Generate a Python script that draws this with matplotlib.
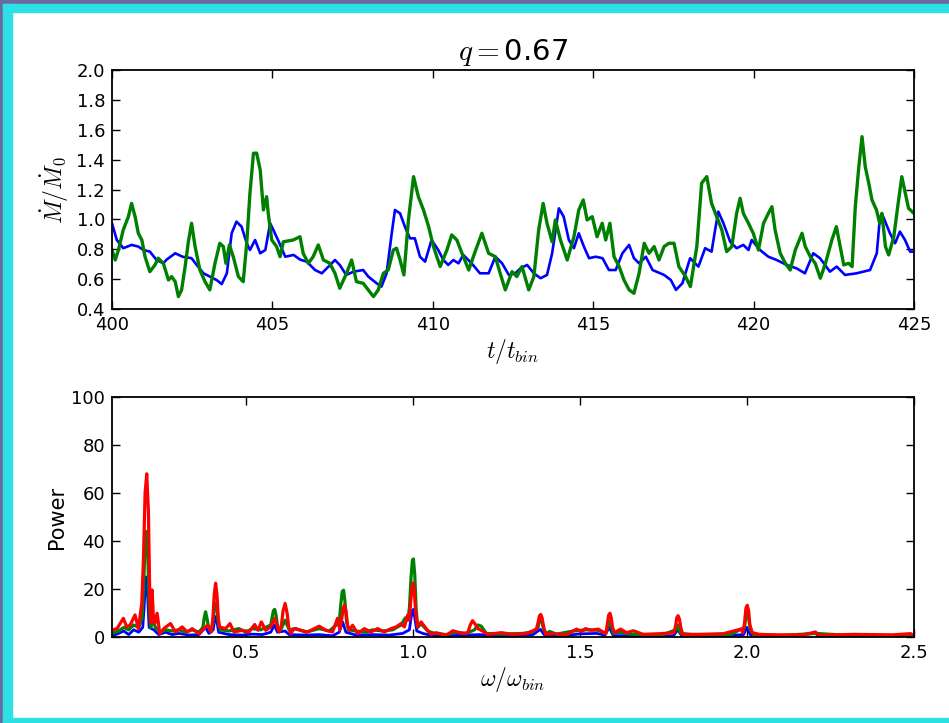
import matplotlib
matplotlib.use("Agg")
import matplotlib.pyplot as plt
from matplotlib.patches import Rectangle

plt.rcParams['mathtext.fontset'] = 'cm'
plt.rcParams['font.family'] = ['DejaVu Sans']

# ---------------- top panel data ----------------
t_blue = [400.0, 400.15, 400.35, 400.61, 400.82, 400.98, 401.18, 401.39, 401.6, 401.7,
          401.97, 402.2, 402.48, 402.64, 402.85, 403.05, 403.26, 403.42, 403.58, 403.73,
          403.88, 404.04, 404.2, 404.3, 404.46, 404.62, 404.78, 404.93, 405.03, 405.2,
          405.4, 405.66, 405.87, 406.07, 406.33, 406.54, 406.75, 406.95, 407.1, 407.3,
          407.53, 407.83, 407.99, 408.25, 408.4, 408.56, 408.72, 408.82, 408.98,
          409.13, 409.29, 409.44, 409.6, 409.76, 409.96, 410.17, 410.33, 410.48, 410.64,
          410.8, 410.95, 411.21, 411.47, 411.74, 411.95, 412.16, 412.37, 412.57, 412.73,
          412.94, 413.15, 413.36, 413.56, 413.72, 413.93, 414.08, 414.24, 414.4, 414.55,
          414.71, 414.87, 415.08, 415.29, 415.49, 415.7, 415.91, 416.12, 416.27, 416.43,
          416.64, 416.85, 417.21, 417.42, 417.58, 417.78,
          418.02, 418.28, 418.49, 418.69, 418.8, 418.9, 419.06, 419.27, 419.47, 419.68,
          419.84, 419.94, 420.2, 420.46, 420.72, 421.03, 421.34, 421.6, 421.86, 422.07,
          422.38, 422.59, 422.85, 423.21, 423.63, 423.84, 423.94, 424.04, 424.25, 424.41,
          424.56, 424.72, 424.88, 425.0]
mdot_blue = [0.974, 0.862, 0.807, 0.829, 0.818, 0.795, 0.784, 0.728, 0.706, 0.73,
             0.773, 0.75, 0.74, 0.695, 0.639, 0.617, 0.594, 0.567, 0.639, 0.907,
             0.985, 0.951, 0.84, 0.795, 0.862, 0.773, 0.795, 0.974, 0.929, 0.85,
             0.75, 0.762, 0.73, 0.717, 0.661, 0.639, 0.684, 0.728, 0.695, 0.628,
             0.65, 0.661, 0.617, 0.572, 0.55, 0.639, 0.907, 1.063, 1.04,
             0.951, 0.873, 0.873, 0.75, 0.717, 0.862, 0.795, 0.728, 0.695, 0.728,
             0.706, 0.762, 0.706, 0.639, 0.639, 0.75, 0.706, 0.628, 0.639, 0.672,
             0.695, 0.639, 0.606, 0.628, 0.773, 1.074, 1.018, 0.862, 0.807, 0.907,
             0.818, 0.74, 0.75, 0.74, 0.661, 0.661, 0.773, 0.829, 0.74, 0.706,
             0.75, 0.661, 0.628, 0.594, 0.528, 0.572,
             0.74, 0.684, 0.807, 0.784, 0.929, 1.052, 0.974, 0.85, 0.807, 0.829,
             0.795, 0.862, 0.795, 0.75, 0.728, 0.695, 0.672, 0.639, 0.773, 0.74,
             0.65, 0.684, 0.628, 0.639, 0.661, 0.773, 1.018, 1.018, 0.907, 0.84,
             0.918, 0.862, 0.784, 0.784]

t_green = [400.0, 400.1, 400.2, 400.35, 400.51, 400.61, 400.72, 400.82, 400.93, 401.03,
           401.18, 401.34, 401.44, 401.6, 401.76, 401.86, 401.97, 402.07, 402.17, 402.28,
           402.38, 402.48, 402.59, 402.74, 402.9, 403.05, 403.21, 403.36, 403.47, 403.55,
           403.66, 403.78, 403.94, 404.09, 404.2, 404.3, 404.41, 404.51, 404.62, 404.72,
           404.82, 404.87, 404.98, 405.13, 405.24, 405.34, 405.65, 405.86, 405.96, 406.12,
           406.27, 406.43, 406.59, 406.79, 406.95, 407.1, 407.31, 407.47, 407.62, 407.83,
           407.99, 408.15, 408.3, 408.46, 408.61, 408.77, 408.87, 408.98,
           409.1, 409.24, 409.4, 409.55, 409.71, 409.87, 410.02, 410.23, 410.44, 410.59,
           410.75, 410.91, 411.12, 411.32, 411.53, 411.74, 411.95, 412.1, 412.26, 412.47,
           412.62, 412.78, 412.99, 413.15, 413.3, 413.44, 413.56, 413.72, 413.82, 413.98,
           414.19, 414.4, 414.55, 414.69, 414.81, 414.97, 415.12, 415.28, 415.39, 415.52,
           415.65, 415.81, 415.96, 416.12, 416.27, 416.43, 416.59, 416.74, 416.9, 417.05,
           417.21, 417.36, 417.52, 417.67, 417.88, 418.03,
           418.23, 418.38, 418.54, 418.69, 418.85, 419.01, 419.16, 419.32, 419.47, 419.58,
           419.68, 419.84, 419.99, 420.15, 420.31, 420.46, 420.57, 420.67, 420.83, 420.99,
           421.14, 421.3, 421.51, 421.61, 421.77, 421.92, 422.08, 422.24, 422.44, 422.58,
           422.7, 422.81, 422.96, 423.07, 423.17, 423.28, 423.38, 423.48, 423.59, 423.69,
           423.83, 423.93, 424.0, 424.11, 424.21, 424.37, 424.52, 424.62, 424.73, 424.83,
           425.0]
mdot_green = [0.795, 0.728, 0.795, 0.929, 1.018, 1.107, 1.018, 0.907, 0.862, 0.75,
              0.65, 0.695, 0.74, 0.706, 0.594, 0.617, 0.583, 0.483, 0.528, 0.684,
              0.85, 0.974, 0.818, 0.661, 0.583, 0.528, 0.706, 0.84, 0.818, 0.706,
              0.829, 0.75, 0.617, 0.583, 0.84, 1.175, 1.443, 1.443, 1.331, 1.063,
              1.152, 1.04, 0.862, 0.818, 0.75, 0.85, 0.862, 0.884, 0.773, 0.706,
              0.75, 0.829, 0.728, 0.706, 0.639, 0.539, 0.639, 0.728, 0.583, 0.572,
              0.528, 0.483, 0.528, 0.639, 0.661, 0.795, 0.807, 0.728,
              0.628, 0.996, 1.286, 1.152, 1.063, 0.951, 0.818, 0.684, 0.795, 0.896,
              0.862, 0.773, 0.661, 0.784, 0.907, 0.773, 0.75, 0.639, 0.528, 0.65,
              0.617, 0.684, 0.528, 0.617, 0.929, 1.107, 0.974, 0.85, 0.996, 0.862,
              0.728, 0.884, 1.063, 1.13, 0.996, 1.018, 0.884, 0.974, 0.862, 0.974,
              0.75, 0.684, 0.594, 0.528, 0.505, 0.639, 0.84, 0.773, 0.818, 0.728,
              0.818, 0.84, 0.84, 0.684, 0.617, 0.55,
              0.818, 1.242, 1.286, 1.107, 1.018, 0.929, 0.784, 0.818, 1.04, 1.141,
              1.04, 0.974, 0.907, 0.795, 0.974, 1.04, 1.085, 0.929, 0.773, 0.706,
              0.661, 0.795, 0.907, 0.818, 0.75, 0.706, 0.606, 0.706, 0.862, 0.951,
              0.818, 0.695, 0.706, 0.684, 1.085, 1.353, 1.554, 1.353, 1.242, 1.13,
              1.063, 0.974, 1.04, 0.818, 0.762, 0.884, 1.13, 1.286, 1.175, 1.074,
              1.04]

# ---------------- bottom panel data ----------------
w_blue = [0.10, 0.12, 0.135, 0.15, 0.165, 0.18, 0.192, 0.196, 0.200, 0.203, 0.207, 0.211,
          0.225, 0.24, 0.26, 0.28, 0.30, 0.33, 0.36, 0.38, 0.39, 0.403, 0.407, 0.41, 0.414,
          0.419, 0.45, 0.49, 0.52, 0.55, 0.575, 0.586, 0.595, 0.618, 0.63, 0.68, 0.72,
          0.76, 0.78, 0.79, 0.80, 0.83, 0.88, 0.93, 0.97, 0.99, 0.995, 0.999, 1.002,
          1.006, 1.012, 1.03, 1.06, 1.1, 1.2, 1.25, 1.3, 1.36, 1.382, 1.395, 1.45, 1.5,
          1.55, 1.575, 1.588, 1.6, 1.65, 1.7, 1.78, 1.793, 1.805, 1.9, 1.99, 2.0, 2.01,
          2.1, 2.205, 2.215, 2.3, 2.5]
p_blue = [0.5, 1.5, 2.5, 1.0, 3.0, 2.0, 4.0, 12.0, 23.0, 25.0, 16.0, 4.0,
          3.0, 1.0, 2.0, 1.0, 1.5, 0.8, 1.0, 4.0, 1.5, 3.0, 7.0, 8.5, 6.5,
          2.0, 1.0, 0.8, 1.2, 1.0, 2.0, 5.0, 2.0, 2.5, 1.0, 0.8, 1.0,
          0.5, 2.0, 6.3, 2.0, 0.8, 1.0, 0.8, 1.5, 3.0, 8.0, 11.0, 11.5,
          8.0, 2.5, 1.5, 0.5, 0.5, 1.0, 0.4, 0.5, 1.0, 3.2, 0.6, 0.5, 1.3,
          1.5, 0.8, 4.0, 0.6, 0.5, 0.3, 0.5, 3.0, 0.5, 0.3, 1.0, 4.0, 1.0,
          0.3, 1.5, 0.3, 0.3, 0.3]

w_green = [0.10, 0.12, 0.135, 0.15, 0.165, 0.18, 0.19, 0.195, 0.199, 0.203, 0.207, 0.211,
           0.216, 0.22, 0.23, 0.245, 0.26, 0.28, 0.30, 0.32, 0.34, 0.36, 0.372, 0.376,
           0.38, 0.384, 0.389, 0.397, 0.402, 0.406, 0.41, 0.414, 0.419, 0.425, 0.45, 0.48,
           0.50, 0.52, 0.545, 0.575, 0.579, 0.583, 0.587, 0.591, 0.596, 0.605, 0.618, 0.63,
           0.65, 0.68, 0.72, 0.75, 0.78, 0.785, 0.789, 0.793, 0.797, 0.802, 0.808, 0.83,
           0.86, 0.88, 0.91, 0.94, 0.965, 0.978, 0.985, 0.99, 0.995, 0.999, 1.002, 1.006,
           1.01, 1.015, 1.025, 1.045, 1.065, 1.1, 1.13, 1.16, 1.185, 1.195, 1.205, 1.22,
           1.27, 1.33, 1.36, 1.375, 1.379, 1.383, 1.387, 1.392, 1.40, 1.41, 1.43, 1.48,
           1.52, 1.555, 1.575, 1.582, 1.586, 1.59, 1.594, 1.60, 1.62, 1.65, 1.70, 1.75,
           1.787, 1.793, 1.80, 1.85, 1.95, 1.993, 1.997, 2.001, 2.005, 2.01, 2.02, 2.1,
           2.205, 2.3, 2.4, 2.5]
p_green = [1.5, 2.5, 4.0, 3.0, 5.0, 4.0, 8.0, 22.0, 40.0, 44.0, 35.0, 14.0,
           4.0, 8.0, 4.0, 2.0, 3.0, 2.5, 3.0, 2.0, 3.0, 2.0, 4.0, 8.0,
           10.5, 8.0, 4.0, 3.0, 6.0, 12.0, 14.0, 12.0, 5.0, 3.0, 2.5, 3.5,
           2.0, 3.5, 3.0, 5.0, 8.0, 11.0, 11.5, 9.0, 4.0, 3.0, 7.0, 3.0,
           3.5, 2.0, 3.5, 2.5, 6.0, 14.0, 19.0, 19.5, 15.0, 6.0, 3.0, 2.5,
           2.0, 3.0, 2.5, 3.0, 5.0, 8.0, 7.0, 12.0, 25.0, 32.0, 32.5, 26.0,
           12.0, 4.0, 5.5, 2.5, 1.5, 1.0, 2.0, 1.5, 3.0, 5.0, 4.5, 1.5,
           1.2, 1.5, 2.2, 4.0, 7.0, 7.3, 6.0, 3.0, 1.5, 2.3, 1.2, 2.5,
           3.0, 2.8, 1.5, 3.0, 6.0, 6.5, 5.0, 1.5, 2.0, 1.2, 1.0, 1.0,
           3.0, 5.0, 1.5, 0.8, 1.0, 4.0, 9.0, 10.0, 8.0, 3.0, 1.0, 0.6,
           1.5, 0.7, 0.6, 0.6]

w_red = [0.10, 0.115, 0.134, 0.144, 0.154, 0.169, 0.179, 0.185, 0.189, 0.194, 0.199, 0.204,
         0.209, 0.213, 0.216, 0.22, 0.224, 0.228, 0.235, 0.243, 0.255, 0.275, 0.29, 0.31,
         0.325, 0.34, 0.36, 0.375, 0.385, 0.397, 0.402, 0.406, 0.41, 0.414, 0.418, 0.422,
         0.44, 0.453, 0.465, 0.49, 0.51, 0.527, 0.537, 0.547, 0.56, 0.575, 0.587, 0.60,
         0.607, 0.612, 0.618, 0.624, 0.629, 0.635, 0.645, 0.665, 0.685, 0.72, 0.74, 0.76,
         0.775, 0.782, 0.788, 0.792, 0.796, 0.80, 0.805, 0.81, 0.82, 0.835, 0.855, 0.875,
         0.895, 0.915, 0.935, 0.95, 0.965, 0.975, 0.985, 0.99, 0.994, 0.998, 1.001, 1.005,
         1.009, 1.014, 1.025, 1.04, 1.055, 1.07, 1.10, 1.12, 1.15, 1.165, 1.172, 1.179,
         1.186, 1.195, 1.207, 1.223, 1.265, 1.30, 1.34, 1.36, 1.37, 1.375, 1.379, 1.383,
         1.387, 1.392, 1.398, 1.42, 1.46, 1.49, 1.505, 1.517, 1.533, 1.555, 1.578, 1.583,
         1.586, 1.59, 1.594, 1.598, 1.604, 1.622, 1.64, 1.66, 1.69, 1.743, 1.782, 1.787,
         1.79, 1.794, 1.798, 1.802, 1.808, 1.858, 1.93, 1.982, 1.988, 1.993, 1.997, 2.001,
         2.005, 2.009, 2.016, 2.037, 2.09, 2.17, 2.205, 2.215, 2.32, 2.436, 2.49, 2.5]
p_red = [2.9, 3.5, 7.8, 4.2, 4.9, 9.2, 3.5, 10.0, 14.0, 32.0, 60.0, 68.0,
         52.0, 18.0, 6.0, 19.6, 8.0, 5.6, 9.9, 1.4, 3.5, 5.6, 2.1, 4.2,
         2.1, 3.5, 1.4, 3.5, 4.9, 2.1, 8.0, 18.0, 22.4, 18.0, 8.0, 4.2,
         3.5, 5.6, 2.1, 2.8, 2.1, 5.2, 2.8, 6.3, 2.8, 4.2, 7.8, 2.1,
         5.0, 11.0, 14.0, 10.0, 4.0, 1.4, 3.5, 2.8, 2.1, 4.5, 2.8, 2.1,
         7.8, 3.0, 8.0, 12.0, 13.3, 11.0, 5.0, 2.8, 4.9, 1.4, 3.5, 2.1,
         3.5, 2.1, 3.5, 4.2, 5.6, 4.2, 9.2, 7.0, 15.0, 21.0, 22.5, 18.0,
         10.0, 4.2, 6.3, 3.5, 1.1, 1.8, 0.7, 2.6, 1.4, 1.8, 5.0, 6.8,
         5.5, 3.5, 2.6, 1.1, 1.8, 1.1, 1.4, 2.6, 3.3, 6.0, 8.8, 9.4,
         8.0, 4.0, 1.1, 1.4, 0.9, 3.3, 2.3, 3.5, 2.8, 3.3, 1.4, 6.0,
         9.0, 9.9, 8.0, 4.0, 1.8, 3.3, 1.8, 2.6, 1.1, 1.4, 1.8, 5.0,
         8.0, 8.9, 7.5, 4.0, 1.1, 1.1, 1.4, 3.3, 1.8, 6.0, 12.0, 13.2,
         11.0, 5.0, 1.8, 1.1, 0.9, 0.9, 2.1, 0.7, 1.1, 0.9, 1.4, 0.7]

top_xticks = [400, 405, 410, 415, 420, 425]
top_yticks = [0.4, 0.6, 0.8, 1.0, 1.2, 1.4, 1.6, 1.8, 2.0]
bot_xticks = [0.5, 1.0, 1.5, 2.0, 2.5]
bot_yticks = [0, 20, 40, 60, 80, 100]

W, H = 949, 723
fig = plt.figure(figsize=(W / 100, H / 100), dpi=100, facecolor='white')

# frame decoration (purple outer, cyan inner)
purple = '#6a69a0'
cyan = '#2de0e4'
fig.patches.append(Rectangle((0, 1 - 4 / H), 1, 4 / H, transform=fig.transFigure, color=purple, zorder=0))
fig.patches.append(Rectangle((0, 0), 3 / W, 1, transform=fig.transFigure, color=purple, zorder=0))
fig.patches.append(Rectangle((3 / W, 1 - 12 / H), 1, 8 / H, transform=fig.transFigure, color=cyan, zorder=0))
fig.patches.append(Rectangle((3 / W, 0), 9 / W, 1 - 4 / H, transform=fig.transFigure, color=cyan, zorder=0))
fig.patches.append(Rectangle((3 / W, 0), 1, 5 / H, transform=fig.transFigure, color=cyan, zorder=0))

ax1 = fig.add_axes([112 / W, 1 - 309 / H, (914 - 112) / W, (309 - 70) / H])
ax2 = fig.add_axes([112 / W, 1 - 637 / H, (914 - 112) / W, (637 - 397) / H])

ax1.plot(t_blue, mdot_blue, color='#0000ff', lw=1.9)
ax1.plot(t_green, mdot_green, color='#008000', lw=2.4)
ax1.set_xlim(400, 425)
ax1.set_ylim(0.4, 2.0)
ax1.set_xticks(top_xticks)
ax1.set_yticks(top_yticks)
ax1.set_yticklabels([f'{v:.1f}' for v in top_yticks])
ax1.set_xlabel(r'$t/t_{bin}$', fontsize=17, labelpad=2)
ax1.set_ylabel(r'$\dot{M}/\dot{M}_0$', fontsize=17, labelpad=4)
ax1.set_title(r'$q=$0.67', fontsize=21, pad=7)

ax2.plot(w_blue, p_blue, color='#0000ff', lw=2.0)
ax2.plot(w_green, p_green, color='#008000', lw=2.3)
ax2.plot(w_red, p_red, color='#ff0000', lw=2.3)
ax2.set_xlim(0.1, 2.5)
ax2.set_ylim(0, 100)
ax2.set_xticks(bot_xticks)
ax2.set_yticks(bot_yticks)
ax2.set_xlabel(r'$\omega/\omega_{bin}$', fontsize=17, labelpad=2)
ax2.set_ylabel('Power', fontsize=15, labelpad=3)

for ax in (ax1, ax2):
    ax.tick_params(direction='in', top=True, right=True, length=6, width=1,
                   labelsize=13, pad=5)
    for s in ax.spines.values():
        s.set_linewidth(1.3)

fig.savefig('out.png', dpi=100, facecolor='white')
